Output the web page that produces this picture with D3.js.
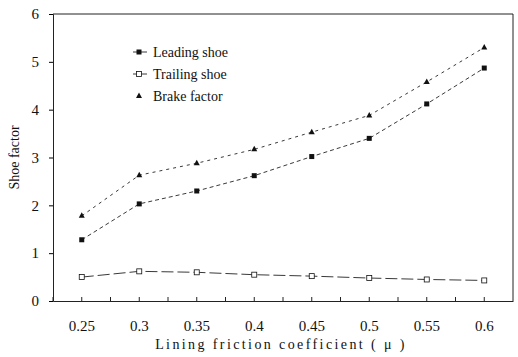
<!DOCTYPE html>
<html lang="en">
<head>
    <meta charset="utf-8">
    <title>Shoe factor vs lining friction</title>
    <script src="https://d3js.org/d3.v7.min.js"></script>
    <style type="text/css">
        body { margin: 0; background: #fff; }
    </style>
</head>
<body>
<script type="text/javascript">
    //Width and height
    var w = 518;
    var h = 357;
    var margin = {left: 53, right: 5, top: 14, bottom: 56};
    var font = "'Liberation Serif', 'DejaVu Serif', serif";

    //data
    var categories = ["0.25", "0.3", "0.35", "0.4", "0.45", "0.5", "0.55", "0.6"];
    var leadingShoe = [1.28, 2.03, 2.30, 2.62, 3.02, 3.40, 4.12, 4.87];
    var trailingShoe = [0.50, 0.62, 0.60, 0.55, 0.52, 0.48, 0.45, 0.43];
    var brakeFactor = [1.78, 2.63, 2.88, 3.17, 3.53, 3.88, 4.58, 5.30];
    var yTicks = [0, 1, 2, 3, 4, 5, 6];

    var series = [
        {name: "Leading shoe", values: leadingShoe, marker: "square", dash: "4,3"},
        {name: "Trailing shoe", values: trailingShoe, marker: "open", dash: "12,4"},
        {name: "Brake factor", values: brakeFactor, marker: "triangle", dash: "3,4"}
    ];

    var xScale = d3.scaleBand()
        .domain(categories)
        .range([margin.left, w - margin.right]);
    var yScale = d3.scaleLinear()
        .domain([0, 6])
        .range([h - margin.bottom, margin.top]);

    var svg = d3.select("body")
        .append("svg")
        .attr("width", w)
        .attr("height", h)
        .attr("font-family", font);

    //frame on top and right
    svg.append("path")
        .attr("d", "M" + margin.left + "," + margin.top + "H" + (w - margin.right) + "V" + (h - margin.bottom))
        .attr("fill", "none")
        .attr("stroke", "#222")
        .attr("stroke-width", 1);

    //Y axis
    var yAxis = d3.axisLeft(yScale)
        .tickValues(yTicks)
        .tickFormat(d3.format("d"))
        .tickSize(4)
        .tickPadding(10);
    var gy = svg.append("g")
        .attr("transform", "translate(" + margin.left + ",0)")
        .call(yAxis)
        .attr("font-family", font);
    gy.selectAll("text").attr("font-size", "15px").attr("fill", "#111");
    gy.select(".domain").attr("stroke", "#222");

    //X axis, ticks pointing inward at centers and band edges
    var xAxis = d3.axisBottom(xScale)
        .tickSize(0)
        .tickPadding(19);
    var gx = svg.append("g")
        .attr("transform", "translate(0," + (h - margin.bottom) + ")")
        .call(xAxis)
        .attr("font-family", font);
    gx.selectAll("text").attr("font-size", "15px").attr("fill", "#111");
    gx.select(".domain").attr("stroke", "#222");
    var tickPos = [];
    categories.forEach(function(c) {
        tickPos.push(xScale(c));
        tickPos.push(xScale(c) + xScale.bandwidth() / 2);
    });
    gx.selectAll("line.minor")
        .data(tickPos)
        .enter()
        .append("line")
        .attr("x1", function(d) { return d; })
        .attr("x2", function(d) { return d; })
        .attr("y1", 0)
        .attr("y2", -4)
        .attr("stroke", "#222");

    //axis titles
    svg.append("text")
        .attr("x", (margin.left + w - margin.right) / 2 - 2)
        .attr("y", h - 8)
        .attr("text-anchor", "middle")
        .attr("font-size", "14px")
        .attr("letter-spacing", "2.4px")
        .attr("fill", "#111")
        .text("Lining friction coefficient ( \u03bc )");
    svg.append("text")
        .attr("transform", "translate(19," + ((margin.top + h - margin.bottom) / 2) + ") rotate(-90)")
        .attr("text-anchor", "middle")
        .attr("font-size", "14px")
        .attr("fill", "#111")
        .text("Shoe factor");

    var line = d3.line()
        .x(function(d, i) { return xScale(categories[i]) + xScale.bandwidth() / 2; })
        .y(function(d) { return yScale(d); });

    function drawMarker(g, type, x, y) {
        if (type === "square") {
            g.append("rect").attr("x", x - 2.5).attr("y", y - 2.5).attr("width", 5).attr("height", 5).attr("fill", "#111");
        } else if (type === "open") {
            g.append("rect").attr("x", x - 2.5).attr("y", y - 2.5).attr("width", 5).attr("height", 5).attr("fill", "#fff").attr("stroke", "#111").attr("stroke-width", 0.8);
        } else {
            g.append("path").attr("d", "M" + x + "," + (y - 3.5) + "L" + (x + 3) + "," + (y + 2) + "L" + (x - 3) + "," + (y + 2) + "Z").attr("fill", "#111");
        }
    }

    series.forEach(function(s) {
        svg.append("path")
            .datum(s.values)
            .attr("d", line)
            .attr("fill", "none")
            .attr("stroke", "#222")
            .attr("stroke-width", 0.9)
            .attr("stroke-dasharray", s.dash);
        var g = svg.append("g");
        s.values.forEach(function(v, i) {
            drawMarker(g, s.marker, xScale(categories[i]) + xScale.bandwidth() / 2, yScale(v));
        });
    });

    //legend
    var legend = svg.append("g").attr("transform", "translate(133,52)");
    series.forEach(function(s, i) {
        var y = i * 22;
        var g = legend.append("g");
        if (i < 2) {
            g.append("line")
                .attr("x1", 0).attr("x2", 14)
                .attr("y1", y).attr("y2", y)
                .attr("stroke", "#222")
                .attr("stroke-width", 0.9);
        }
        drawMarker(g, s.marker, 6, y);
        g.append("text")
            .attr("x", 20)
            .attr("y", y + 4.5)
            .attr("font-size", "14px")
            .attr("fill", "#111")
            .text(s.name);
    });
</script>
</body>
</html>
